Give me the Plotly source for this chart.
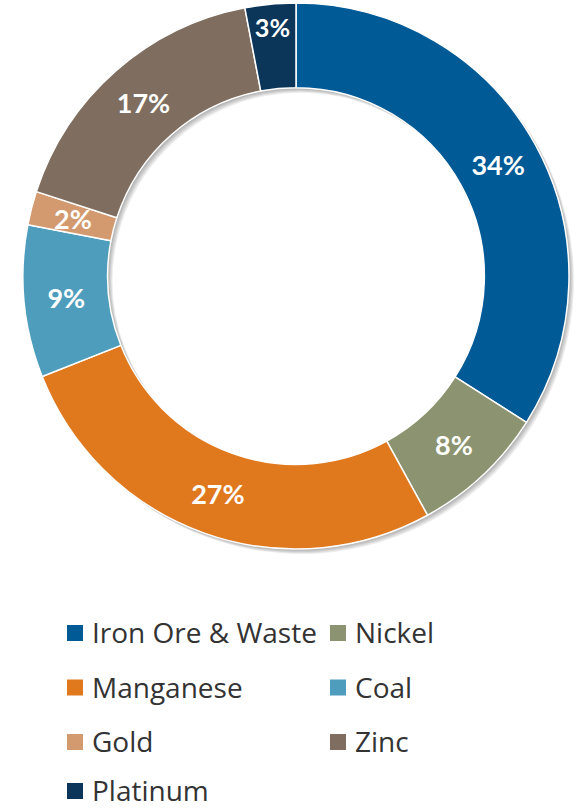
import math
import plotly.graph_objects as go

# Share of the portfolio by commodity
commodities = ["Iron Ore & Waste", "Nickel", "Manganese", "Coal", "Gold", "Zinc", "Platinum"]
shares = [34, 8, 27, 9, 2, 17, 3]
colors = ["#005A96", "#8C9370", "#E0781E", "#4F9DBD", "#D29A6E", "#7F6E5F", "#0B3659"]

W, H = 582, 809
cx, cy, R = 296, 276, 273  # ring centre and outer radius in pixels
hole = 0.69
narrow = {"Gold"}  # slices whose label is placed by hand so it keeps full size


def domain(dx=0, dy=0):
    return dict(
        x=[(cx - R + dx) / W, (cx + R + dx) / W],
        y=[1 - (cy + R + dy) / H, 1 - (cy - R + dy) / H],
    )


label_font = dict(family="Lato", size=27, color="white", weight="bold")

fig = go.Figure()

# soft drop shadow built from a few offset translucent rings
for off in [1, 2, 3, 4, 5]:
    fig.add_trace(go.Pie(
        values=shares, sort=False, direction="clockwise", rotation=0,
        hole=hole, domain=domain(off, off),
        marker=dict(colors=["rgba(0,0,0,0.07)"] * len(shares), line=dict(width=0)),
        textinfo="none", hoverinfo="skip", showlegend=False,
    ))

fig.add_trace(go.Pie(
    labels=commodities, values=shares, sort=False, direction="clockwise", rotation=0,
    hole=hole, domain=domain(),
    marker=dict(colors=colors, line=dict(color="white", width=1.5)),
    texttemplate=["" if c in narrow else "%{value}%" for c in commodities],
    textposition="inside", insidetextorientation="horizontal",
    textfont=label_font,
    showlegend=False,
))

# labels for thin slices, centred in the ring at the slice's mid angle
total = sum(shares)
cum = 0
r_mid = R * (1 + hole) / 2
for name, v in zip(commodities, shares):
    mid = (cum + v / 2) / total * 2 * math.pi
    cum += v
    if name not in narrow:
        continue
    px = cx + r_mid * math.sin(mid)
    py = cy - r_mid * math.cos(mid)
    fig.add_annotation(text=f"{v}%", xref="paper", yref="paper",
                       x=px / W, y=1 - py / H, xanchor="center", yanchor="middle",
                       showarrow=False, font=label_font)

# legend: two columns of square swatches with labels
col_x = [67, 330]
row_y = [633, 687.5, 742, 791]
sw = 16
for i, (name, col) in enumerate(zip(commodities, colors)):
    x0 = col_x[i % 2]
    yc = row_y[i // 2]
    fig.add_shape(type="rect", xref="paper", yref="paper",
                  x0=x0 / W, x1=(x0 + sw) / W,
                  y0=1 - (yc + sw / 2) / H, y1=1 - (yc - sw / 2) / H,
                  fillcolor=col, line=dict(width=0))
    fig.add_annotation(text=name, xref="paper", yref="paper",
                       x=(x0 + 24) / W, y=1 - (yc - 1) / H, xanchor="left", yanchor="middle",
                       showarrow=False, borderpad=0,
                       font=dict(family="Open Sans", size=28, color="#333333"))

fig.update_layout(
    width=W, height=H, margin=dict(l=0, r=0, t=0, b=0),
    paper_bgcolor="white", plot_bgcolor="white",
)

fig.write_html("out.html")
